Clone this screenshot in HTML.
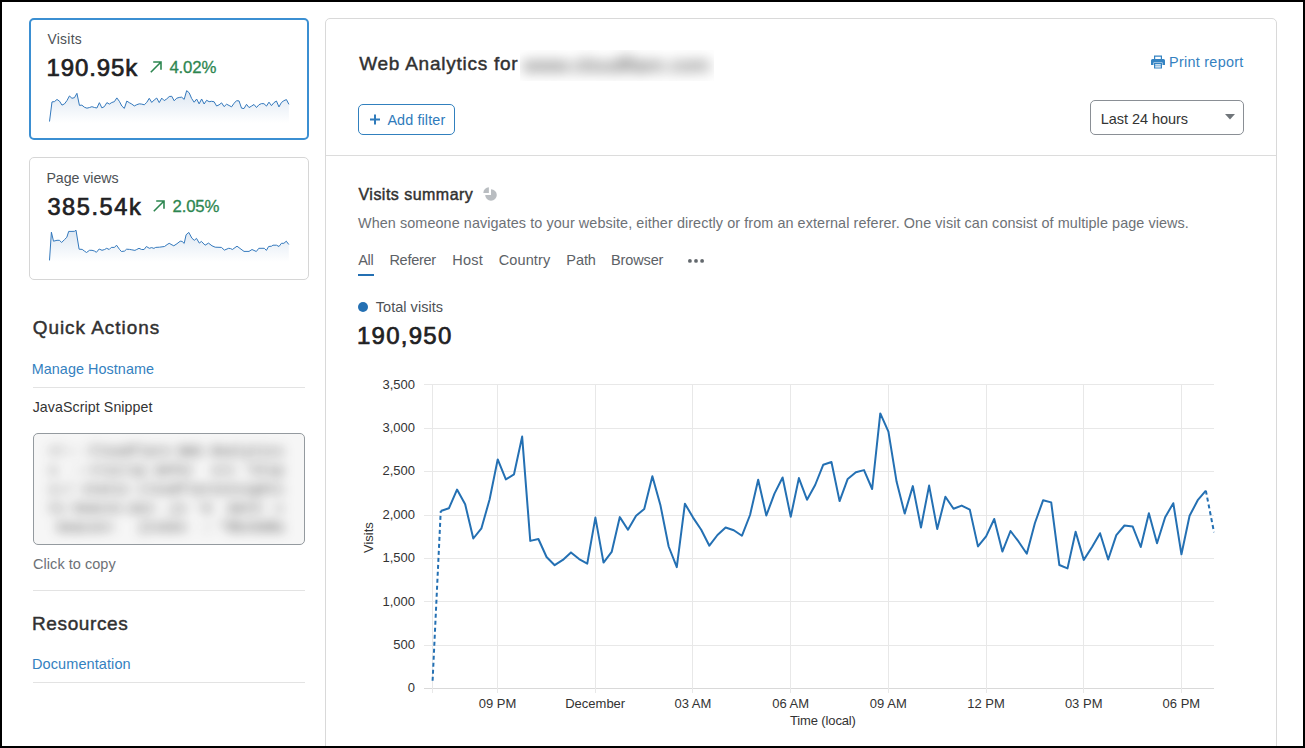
<!DOCTYPE html>
<html><head><meta charset="utf-8">
<style>
html,body{margin:0;padding:0;}
body{width:1305px;height:748px;overflow:hidden;background:#000;position:relative;font-family:"Liberation Sans", sans-serif;}
.page{position:absolute;left:2px;top:2px;width:1301px;height:744px;background:#fff;overflow:hidden;}
.root{position:absolute;left:-2px;top:-2px;width:1305px;height:748px;}
.abs{position:absolute;}
.t{position:absolute;white-space:nowrap;line-height:1;}
.t.r{text-align:right;}
.t.c{text-align:center;}
.card{position:absolute;box-sizing:border-box;background:#fff;border-radius:5px;}
.hr{position:absolute;height:1px;background:#e3e3e3;}
</style></head><body><div class="page"><div class="root">
<div class="card" style="left:29px;top:18px;width:280px;height:122px;border:2px solid #3b8fd2;"></div>
<div class="card" style="left:29px;top:157px;width:280px;height:123px;border:1px solid #d6d6d6;"></div>
<svg class="abs" style="left:0;top:0" width="330" height="300" viewBox="0 0 330 300">
<defs>
<linearGradient id="g1" x1="0" y1="0" x2="0" y2="1"><stop offset="0" stop-color="#dde7f2"/><stop offset="1" stop-color="#ffffff"/></linearGradient>
</defs>
<path d="M49.50,123 L49.50,121.52 L51.99,101.92 L54.49,101.61 L56.98,99.45 L59.48,101.15 L61.97,105.10 L64.46,103.92 L66.96,100.59 L69.45,95.96 L71.95,98.27 L74.44,97.68 L76.93,93.33 L79.43,105.37 L81.92,105.15 L84.42,107.23 L86.91,108.18 L89.40,107.57 L91.90,106.70 L94.39,107.48 L96.89,108.00 L99.38,102.68 L101.87,107.88 L104.37,106.64 L106.86,102.63 L109.36,104.08 L111.85,102.47 L114.34,101.70 L116.84,97.90 L119.33,101.30 L121.83,106.02 L124.32,108.40 L126.81,101.08 L129.31,102.68 L131.80,104.08 L134.30,105.93 L136.79,104.69 L139.28,103.83 L141.78,104.14 L144.27,104.78 L146.77,102.38 L149.26,98.31 L151.75,102.44 L154.25,99.91 L156.74,98.05 L159.24,102.59 L161.73,98.12 L164.22,100.62 L166.72,98.92 L169.21,96.57 L171.71,96.26 L174.20,100.78 L176.69,98.21 L179.19,97.44 L181.68,97.20 L184.18,99.38 L186.67,90.65 L189.16,92.75 L191.66,98.52 L194.15,102.22 L196.65,99.04 L199.14,103.83 L201.63,98.99 L204.13,104.01 L206.62,100.28 L209.12,101.67 L211.61,101.30 L214.10,101.76 L216.60,106.01 L219.09,104.85 L221.59,102.84 L224.08,106.61 L226.57,104.23 L229.07,105.47 L231.56,106.85 L234.06,103.31 L236.55,100.68 L239.04,100.93 L241.54,108.16 L244.03,108.55 L246.53,104.32 L249.02,107.57 L251.51,106.10 L254.01,104.48 L256.50,107.52 L259.00,104.70 L261.49,103.60 L263.98,103.70 L266.48,106.08 L268.97,102.17 L271.47,105.64 L273.96,102.64 L276.45,101.02 L278.95,106.92 L281.44,102.47 L283.94,100.67 L286.43,99.58 L288.92,104.37 L288.92,123 Z" fill="url(#g1)"/><polyline points="49.50,121.52 51.99,101.92 54.49,101.61 56.98,99.45 59.48,101.15 61.97,105.10 64.46,103.92 66.96,100.59 69.45,95.96 71.95,98.27 74.44,97.68 76.93,93.33 79.43,105.37 81.92,105.15 84.42,107.23 86.91,108.18 89.40,107.57 91.90,106.70 94.39,107.48 96.89,108.00 99.38,102.68 101.87,107.88 104.37,106.64 106.86,102.63 109.36,104.08 111.85,102.47 114.34,101.70 116.84,97.90 119.33,101.30 121.83,106.02 124.32,108.40 126.81,101.08 129.31,102.68 131.80,104.08 134.30,105.93 136.79,104.69 139.28,103.83 141.78,104.14 144.27,104.78 146.77,102.38 149.26,98.31 151.75,102.44 154.25,99.91 156.74,98.05 159.24,102.59 161.73,98.12 164.22,100.62 166.72,98.92 169.21,96.57 171.71,96.26 174.20,100.78 176.69,98.21 179.19,97.44 181.68,97.20 184.18,99.38 186.67,90.65 189.16,92.75 191.66,98.52 194.15,102.22 196.65,99.04 199.14,103.83 201.63,98.99 204.13,104.01 206.62,100.28 209.12,101.67 211.61,101.30 214.10,101.76 216.60,106.01 219.09,104.85 221.59,102.84 224.08,106.61 226.57,104.23 229.07,105.47 231.56,106.85 234.06,103.31 236.55,100.68 239.04,100.93 241.54,108.16 244.03,108.55 246.53,104.32 249.02,107.57 251.51,106.10 254.01,104.48 256.50,107.52 259.00,104.70 261.49,103.60 263.98,103.70 266.48,106.08 268.97,102.17 271.47,105.64 273.96,102.64 276.45,101.02 278.95,106.92 281.44,102.47 283.94,100.67 286.43,99.58 288.92,104.37" fill="none" stroke="#3479bd" stroke-width="1" stroke-linejoin="round"/>
<path d="M49.50,262 L49.50,260.40 L51.40,232.20 L53.50,241.20 L57.00,240.30 L59.50,240.30 L61.60,242.50 L64.40,239.70 L66.80,237.30 L68.70,231.40 L72.00,231.40 L74.50,231.30 L76.00,230.20 L79.10,249.20 L82.20,249.40 L84.30,251.00 L86.50,252.50 L89.50,250.30 L92.00,250.30 L94.40,251.00 L96.40,252.30 L99.20,249.00 L102.00,250.30 L104.60,249.50 L106.70,248.30 L109.20,249.50 L111.30,247.40 L114.50,247.40 L116.50,245.20 L119.60,249.50 L121.40,251.50 L124.50,251.10 L126.60,249.20 L129.50,249.40 L131.80,249.80 L134.90,250.40 L136.70,249.50 L139.00,248.30 L141.60,249.50 L144.10,249.50 L146.40,246.50 L149.30,248.30 L151.70,247.60 L153.90,248.40 L155.70,247.40 L159.40,247.20 L164.50,246.50 L167.10,244.60 L169.20,243.30 L172.00,244.90 L173.80,245.80 L177.00,243.70 L180.20,241.20 L182.10,241.40 L184.20,243.40 L186.10,234.80 L188.80,232.40 L191.90,238.20 L194.30,240.30 L196.50,238.40 L199.30,243.10 L201.40,241.40 L205.10,245.20 L208.50,243.10 L212.00,245.80 L215.20,247.20 L221.40,247.40 L224.40,250.10 L228.70,248.30 L230.60,248.60 L232.40,249.50 L237.00,246.20 L244.00,251.40 L249.00,251.40 L252.00,249.50 L256.30,251.50 L258.80,248.30 L264.30,248.30 L266.40,250.40 L268.60,246.50 L271.60,246.20 L272.90,245.20 L276.50,245.20 L279.00,246.50 L281.40,243.30 L283.90,243.30 L286.30,241.20 L288.80,244.50 L288.80,262 Z" fill="url(#g1)"/><polyline points="49.50,260.40 51.40,232.20 53.50,241.20 57.00,240.30 59.50,240.30 61.60,242.50 64.40,239.70 66.80,237.30 68.70,231.40 72.00,231.40 74.50,231.30 76.00,230.20 79.10,249.20 82.20,249.40 84.30,251.00 86.50,252.50 89.50,250.30 92.00,250.30 94.40,251.00 96.40,252.30 99.20,249.00 102.00,250.30 104.60,249.50 106.70,248.30 109.20,249.50 111.30,247.40 114.50,247.40 116.50,245.20 119.60,249.50 121.40,251.50 124.50,251.10 126.60,249.20 129.50,249.40 131.80,249.80 134.90,250.40 136.70,249.50 139.00,248.30 141.60,249.50 144.10,249.50 146.40,246.50 149.30,248.30 151.70,247.60 153.90,248.40 155.70,247.40 159.40,247.20 164.50,246.50 167.10,244.60 169.20,243.30 172.00,244.90 173.80,245.80 177.00,243.70 180.20,241.20 182.10,241.40 184.20,243.40 186.10,234.80 188.80,232.40 191.90,238.20 194.30,240.30 196.50,238.40 199.30,243.10 201.40,241.40 205.10,245.20 208.50,243.10 212.00,245.80 215.20,247.20 221.40,247.40 224.40,250.10 228.70,248.30 230.60,248.60 232.40,249.50 237.00,246.20 244.00,251.40 249.00,251.40 252.00,249.50 256.30,251.50 258.80,248.30 264.30,248.30 266.40,250.40 268.60,246.50 271.60,246.20 272.90,245.20 276.50,245.20 279.00,246.50 281.40,243.30 283.90,243.30 286.30,241.20 288.80,244.50" fill="none" stroke="#3479bd" stroke-width="1" stroke-linejoin="round"/>
</svg>
<div id="visits_l" class="t" style="left:47.40px;top:32.72px;font-size:13.8px;color:#4d5155;font-weight:400;letter-spacing:0.320px">Visits</div>

<div id="visits_n" class="t" style="left:46.40px;top:55.61px;font-size:24px;color:#1f2123;font-weight:400;-webkit-text-stroke:0.70px #1f2123;letter-spacing:0.917px">190.95k</div>

<svg class="abs" style="left:150px;top:61px" width="12" height="12" viewBox="0 0 12 12"><path d="M0.8 11.2 L11 1 M3.2 1 H11 V8.8" fill="none" stroke="#2d8650" stroke-width="1.6"/></svg>
<div id="visits_p" class="t" style="left:169.40px;top:59.73px;font-size:16.8px;color:#2d8650;font-weight:400;-webkit-text-stroke:0.3px #2d8650;letter-spacing:-0.150px">4.02%</div>

<div id="pv_l" class="t" style="left:46.40px;top:171.01px;font-size:14.2px;color:#4d5155;font-weight:400;letter-spacing:-0.036px">Page views</div>

<div id="pv_n" class="t" style="left:47.40px;top:195.51px;font-size:23.6px;color:#1f2123;font-weight:400;-webkit-text-stroke:0.70px #1f2123;letter-spacing:1.564px">385.54k</div>

<svg class="abs" style="left:153.3px;top:200px" width="12" height="12" viewBox="0 0 12 12"><path d="M0.8 11.2 L11 1 M3.2 1 H11 V8.8" fill="none" stroke="#2d8650" stroke-width="1.6"/></svg>
<div id="pv_p" class="t" style="left:172.50px;top:198.51px;font-size:16.8px;color:#2d8650;font-weight:400;-webkit-text-stroke:0.3px #2d8650;letter-spacing:-0.175px">2.05%</div>


<div id="qa" class="t" style="left:32.70px;top:319.00px;font-size:18.9px;color:#313131;font-weight:400;-webkit-text-stroke:0.45px #313131;letter-spacing:1.011px">Quick Actions</div>

<div id="mh" class="t" style="left:31.70px;top:361.90px;font-size:14.4px;color:#3481c0;font-weight:400;letter-spacing:0.050px">Manage Hostname</div>

<div class="hr" style="left:33px;top:387px;width:272px;"></div>
<div id="js" class="t" style="left:32.70px;top:399.68px;font-size:14.2px;color:#333333;font-weight:400;letter-spacing:0.089px">JavaScript Snippet</div>

<div class="card" style="left:33px;top:433px;width:272px;height:112px;border:1px solid #949a9f;background:#f6f6f6;overflow:hidden;">
<div style="position:absolute;left:15px;top:8px;font-family:'Liberation Mono',monospace;font-size:13.5px;line-height:19.1px;color:#222;filter:blur(6px);white-space:pre;">&lt;!-- Cloudflare Web Analytics
s  --&gt;&lt;scrip defer  src 'htsp
s:/ static cloudflareinsights
ts beacon.min .js 'd  dat4- c
 beacon=   {token  : "8bc6d8a
</div></div>
<div id="ctc" class="t" style="left:33.10px;top:557.01px;font-size:14.5px;color:#6d7176;font-weight:400;letter-spacing:0.036px">Click to copy</div>

<div class="hr" style="left:33px;top:590px;width:272px;"></div>
<div id="res" class="t" style="left:32.00px;top:613.51px;font-size:19px;color:#313131;font-weight:400;-webkit-text-stroke:0.45px #313131;letter-spacing:0.625px">Resources</div>

<div id="doc" class="t" style="left:32.00px;top:657.29px;font-size:14.5px;color:#3481c0;font-weight:400;letter-spacing:0.094px">Documentation</div>

<div class="hr" style="left:33px;top:682px;width:272px;"></div>

<div class="card" style="left:325px;top:18px;width:952px;height:760px;border:1px solid #d9d9d9;"></div>
<div class="hr" style="left:326px;top:155px;width:950px;background:#dcdcdc;"></div>
<div id="wa" class="t" style="left:359.20px;top:54.18px;font-size:19px;color:#313131;font-weight:400;-webkit-text-stroke:0.45px #313131;letter-spacing:0.750px">Web Analytics for</div>

<div class="abs" style="left:520px;top:50px;width:194px;height:31px;overflow:hidden;background:#fff;">
<div style="position:absolute;left:3px;top:1px;font-size:21px;line-height:27px;color:#333;filter:blur(6.5px);white-space:nowrap;">www.cloudflare.com</div></div>

<svg class="abs" style="left:1151px;top:55px" width="14" height="14" viewBox="0 0 14 14">
<path d="M3 0.5 H11 V4 H9.8 V1.7 H4.2 V4 H3 Z" fill="#3483c2"/>
<path d="M1.5 4 H12.5 Q14 4 14 5.5 V10 H11.5 V7.5 H2.5 V10 H0 V5.5 Q0 4 1.5 4 Z" fill="#3483c2"/>
<path d="M3 8 H11 V13.5 H3 Z M4.2 9.2 V10.5 H9.8 V9.2 Z M4.2 11.3 V12.4 H9.8 V11.3 Z" fill="#3483c2" fill-rule="evenodd"/>
</svg>
<div id="pr" class="t" style="left:1169.10px;top:54.90px;font-size:14.4px;color:#3481c0;font-weight:400;letter-spacing:0.271px">Print report</div>


<div class="card" style="left:358px;top:104px;width:97px;height:31px;border:1px solid #3180be;border-radius:5px;"></div>
<svg class="abs" style="left:370px;top:114px" width="11" height="11" viewBox="0 0 11 11"><path d="M5 0.5 V10.5 M0 5.5 H10" stroke="#2f7bbb" stroke-width="2"/></svg>
<div id="af" class="t" style="left:387.40px;top:112.90px;font-size:14.4px;color:#2f7bbb;font-weight:400;letter-spacing:0.111px">Add filter</div>


<div class="card" style="left:1090px;top:100px;width:154px;height:35px;border:1px solid #8a8f95;border-radius:5px;"></div>
<div id="l24" class="t" style="left:1100.80px;top:111.79px;font-size:14.5px;color:#333333;font-weight:400;letter-spacing:-0.056px">Last 24 hours</div>

<svg class="abs" style="left:1225px;top:114px" width="10" height="6" viewBox="0 0 10 6"><path d="M0 0 H10 L5 5.5 Z" fill="#70757a"/></svg>

<div id="vs" class="t" style="left:358.50px;top:187.20px;font-size:16px;color:#313131;font-weight:400;-webkit-text-stroke:0.45px #313131;letter-spacing:0.472px">Visits summary</div>

<svg class="abs" style="left:483px;top:187px" width="14" height="14" viewBox="0 0 14 14">
<path d="M8 2.2 A5.8 5.8 0 1 1 2.2 8 L8 8 Z" fill="#b9bdc1"/>
<path d="M5.9 0.3 V5.9 H0.3 A5.6 5.6 0 0 1 5.9 0.3 Z" fill="#b9bdc1"/>
</svg>
<div id="desc" class="t" style="left:358.00px;top:215.90px;font-size:14.4px;color:#6d7176;font-weight:400;letter-spacing:0.079px">When someone navigates to your website, either directly or from an external referer. One visit can consist of multiple page views.</div>


<div id="t_all" class="t" style="left:358.30px;top:252.92px;font-size:14.5px;color:#5c6166;font-weight:400;letter-spacing:-0.350px">All</div>

<div class="abs" style="left:358px;top:274px;width:16px;height:2px;background:#2470b3;"></div>
<div id="t_ref" class="t" style="left:389.40px;top:252.92px;font-size:14.5px;color:#5c6166;font-weight:400;letter-spacing:-0.266px">Referer</div>

<div id="t_host" class="t" style="left:452.20px;top:252.92px;font-size:14.5px;color:#5c6166;font-weight:400;letter-spacing:0.232px">Host</div>

<div id="t_cty" class="t" style="left:498.80px;top:252.92px;font-size:14.5px;color:#5c6166;font-weight:400;letter-spacing:0.100px">Country</div>

<div id="t_path" class="t" style="left:566.30px;top:252.92px;font-size:14.5px;color:#5c6166;font-weight:400;letter-spacing:-0.072px">Path</div>

<div id="t_brw" class="t" style="left:611.00px;top:252.92px;font-size:14.5px;color:#5c6166;font-weight:400;letter-spacing:-0.125px">Browser</div>

<svg class="abs" style="left:687px;top:258px" width="18" height="6" viewBox="0 0 18 6"><circle cx="2.9" cy="2.9" r="1.9" fill="#63686d"/><circle cx="9" cy="2.9" r="1.9" fill="#63686d"/><circle cx="15.1" cy="2.9" r="1.9" fill="#63686d"/></svg>

<div class="abs" style="left:358px;top:302px;width:10px;height:10px;border-radius:50%;background:#2470b3;"></div>
<div id="tv" class="t" style="left:375.80px;top:300.29px;font-size:14.5px;color:#4d5155;font-weight:400;letter-spacing:0.028px">Total visits</div>

<div id="big" class="t" style="left:357.00px;top:323.73px;font-size:24px;color:#1f2123;font-weight:400;-webkit-text-stroke:0.70px #1f2123;letter-spacing:1.251px">190,950</div>


<svg class="abs" style="left:0;top:0" width="1305" height="748"><line x1="424" y1="688.5" x2="1214" y2="688.5" stroke="#d9d9d9" stroke-width="1"/>
<line x1="424" y1="645.5" x2="1214" y2="645.5" stroke="#e8e8e8" stroke-width="1"/>
<line x1="424" y1="601.5" x2="1214" y2="601.5" stroke="#e8e8e8" stroke-width="1"/>
<line x1="424" y1="558.5" x2="1214" y2="558.5" stroke="#e8e8e8" stroke-width="1"/>
<line x1="424" y1="515.5" x2="1214" y2="515.5" stroke="#e8e8e8" stroke-width="1"/>
<line x1="424" y1="471.5" x2="1214" y2="471.5" stroke="#e8e8e8" stroke-width="1"/>
<line x1="424" y1="428.5" x2="1214" y2="428.5" stroke="#e8e8e8" stroke-width="1"/>
<line x1="424" y1="384.5" x2="1214" y2="384.5" stroke="#e8e8e8" stroke-width="1"/>
<line x1="432.5" y1="384.5" x2="432.5" y2="693" stroke="#e8e8e8" stroke-width="1"/>
<line x1="497.5" y1="384.5" x2="497.5" y2="693" stroke="#e8e8e8" stroke-width="1"/>
<line x1="595.5" y1="384.5" x2="595.5" y2="693" stroke="#e8e8e8" stroke-width="1"/>
<line x1="692.5" y1="384.5" x2="692.5" y2="693" stroke="#e8e8e8" stroke-width="1"/>
<line x1="790.5" y1="384.5" x2="790.5" y2="693" stroke="#e8e8e8" stroke-width="1"/>
<line x1="888.5" y1="384.5" x2="888.5" y2="693" stroke="#e8e8e8" stroke-width="1"/>
<line x1="986.5" y1="384.5" x2="986.5" y2="693" stroke="#e8e8e8" stroke-width="1"/>
<line x1="1083.5" y1="384.5" x2="1083.5" y2="693" stroke="#e8e8e8" stroke-width="1"/>
<line x1="1181.5" y1="384.5" x2="1181.5" y2="693" stroke="#e8e8e8" stroke-width="1"/>
<polyline points="440.74,511.00 448.88,508.30 457.02,489.60 465.16,504.30 473.30,538.50 481.44,528.30 489.58,499.50 497.72,459.40 505.86,479.40 514.00,474.30 522.14,436.60 530.27,540.90 538.41,539.00 546.55,557.00 554.69,565.20 562.83,559.90 570.97,552.40 579.11,559.10 587.25,563.60 595.39,517.60 603.53,562.60 611.67,551.90 619.81,517.10 627.95,529.70 636.09,515.80 644.23,509.10 652.37,476.20 660.51,505.60 668.65,546.50 676.79,567.10 684.93,503.70 693.07,517.60 701.21,529.70 709.35,545.70 717.49,535.00 725.62,527.50 733.76,530.20 741.90,535.80 750.04,515.00 758.18,479.70 766.32,515.50 774.46,493.60 782.60,477.50 790.74,516.80 798.88,478.10 807.02,499.70 815.16,485.00 823.30,464.70 831.44,462.00 839.58,501.10 847.72,478.90 855.86,472.20 864.00,470.10 872.14,489.00 880.28,413.40 888.42,431.60 896.56,481.60 904.70,513.60 912.84,486.10 920.97,527.50 929.11,485.60 937.25,529.10 945.39,496.80 953.53,508.80 961.67,505.60 969.81,509.60 977.95,546.40 986.09,536.40 994.23,519.00 1002.37,551.60 1010.51,531.00 1018.65,541.70 1026.79,553.70 1034.93,523.00 1043.07,500.30 1051.21,502.40 1059.35,565.00 1067.49,568.40 1075.63,531.80 1083.77,559.90 1091.91,547.20 1100.05,533.20 1108.19,559.50 1116.32,535.10 1124.46,525.50 1132.60,526.40 1140.74,547.00 1148.88,513.20 1157.02,543.20 1165.16,517.20 1173.30,503.20 1181.44,554.30 1189.58,515.80 1197.72,500.20 1205.86,490.70" fill="none" stroke="#2470b3" stroke-width="2" stroke-linejoin="round"/>
<line x1="432.60" y1="680.70" x2="440.74" y2="511.00" stroke="#2470b3" stroke-width="2" stroke-dasharray="4,3"/>
<line x1="1205.86" y1="490.70" x2="1214.00" y2="532.20" stroke="#2470b3" stroke-width="2" stroke-dasharray="4,3"/></svg>
<div class="t r" style="right:890px;top:681.30px;font-size:13px;color:#333">0</div>
<div class="t r" style="right:890px;top:637.90px;font-size:13px;color:#333">500</div>
<div class="t r" style="right:890px;top:594.50px;font-size:13px;color:#333">1,000</div>
<div class="t r" style="right:890px;top:551.10px;font-size:13px;color:#333">1,500</div>
<div class="t r" style="right:890px;top:507.70px;font-size:13px;color:#333">2,000</div>
<div class="t r" style="right:890px;top:464.30px;font-size:13px;color:#333">2,500</div>
<div class="t r" style="right:890px;top:420.90px;font-size:13px;color:#333">3,000</div>
<div class="t r" style="right:890px;top:377.50px;font-size:13px;color:#333">3,500</div>

<div class="t c" style="left:437.5px;width:120px;top:697.00px;font-size:13px;color:#333">09 PM</div>
<div class="t c" style="left:535.2px;width:120px;top:697.00px;font-size:13px;color:#333">December</div>
<div class="t c" style="left:632.9px;width:120px;top:697.00px;font-size:13px;color:#333">03 AM</div>
<div class="t c" style="left:730.6px;width:120px;top:697.00px;font-size:13px;color:#333">06 AM</div>
<div class="t c" style="left:828.3px;width:120px;top:697.00px;font-size:13px;color:#333">09 AM</div>
<div class="t c" style="left:926.0px;width:120px;top:697.00px;font-size:13px;color:#333">12 PM</div>
<div class="t c" style="left:1023.7px;width:120px;top:697.00px;font-size:13px;color:#333">03 PM</div>
<div class="t c" style="left:1121.4px;width:120px;top:697.00px;font-size:13px;color:#333">06 PM</div>

<div class="t" style="left:362px;top:553px;font-size:13px;color:#333;transform:rotate(-90deg);transform-origin:left top;">Visits</div>
<div id="time" class="t" style="left:790.00px;top:713.50px;font-size:13px;color:#333333;font-weight:400;letter-spacing:-0.136px">Time (local)</div>

</div></div></body></html>
